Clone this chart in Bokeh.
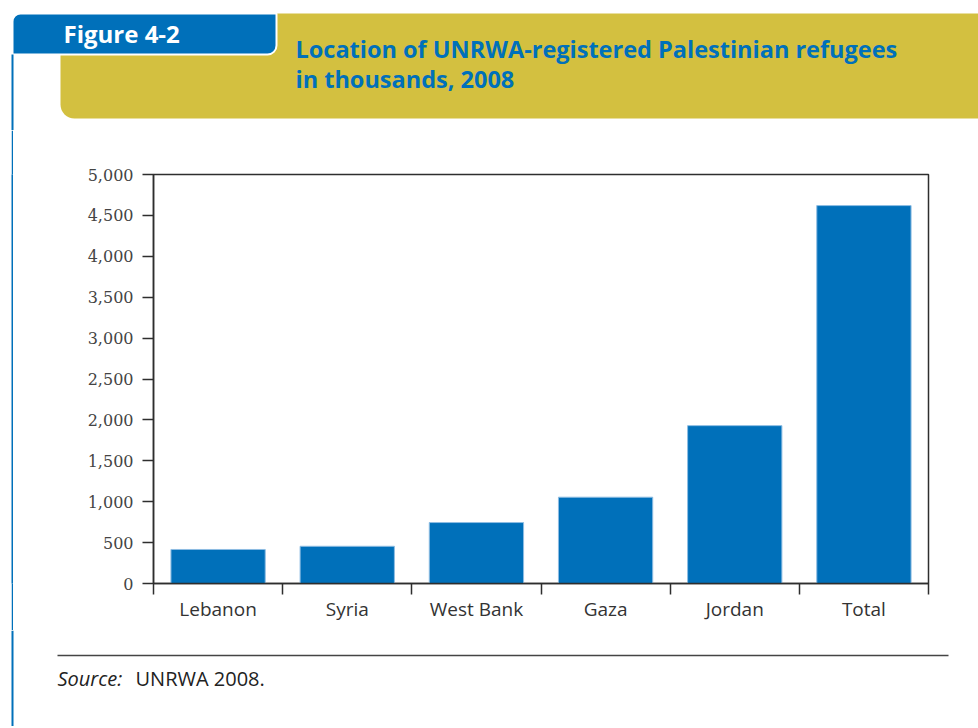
from bokeh.plotting import figure
from bokeh.models import Range1d, FixedTicker, NumeralTickFormatter, LinearAxis, Spacer
from bokeh.layouts import column, row
from bokeh.core.properties import value
from bokeh.embed import file_html
from bokeh.resources import INLINE

# ---- data ----
categories = ["Lebanon", "Syria", "West Bank", "Gaza", "Jordan", "Total"]
refugees = [416, 455, 745, 1055, 1930, 4620]
y_ticks = [0, 500, 1000, 1500, 2000, 2500, 3000, 3500, 4000, 4500, 5000]
figure_label = "Figure 4-2"
title_lines = ["Location of UNRWA-registered Palestinian refugees", "in thousands, 2008"]
source_label = "Source:"
source_text = "UNRWA 2008."

BLUE = "#0070BA"
OLIVE = "#D3C040"
DARK = "#2e2e2e"
TXT = "#333333"


def deco_fig(w, h, x0, y0):
    f = figure(width=w, height=h, x_range=Range1d(x0, x0 + w), y_range=Range1d(y0 + h, y0),
               output_backend="svg", toolbar_location=None, x_axis_type=None, y_axis_type=None,
               min_border=0, min_border_left=0, min_border_right=0, min_border_top=0, min_border_bottom=0)
    f.outline_line_color = None
    f.xgrid.visible = False
    f.ygrid.visible = False
    f.background_fill_color = "white"
    f.border_fill_color = "white"
    return f


# ---- header ----
head = deco_fig(978, 130, 0, 0)
head.quad(left=60, right=978, top=13, bottom=118, fill_color=OLIVE, line_color=None,
          border_radius=(0, 0, 0, 14))
head.quad(left=12, right=276, top=13, bottom=54, fill_color=BLUE, line_color="white", line_width=2,
          border_radius=(8, 0, 9, 0))
head.quad(left=11, right=13, top=54, bottom=130, fill_color=BLUE, line_color=None)
head.text(x=[63], y=[33], text=[figure_label], text_color="white", text_font=value("Open Sans"),
          text_font_style="bold", text_font_size="24px", text_baseline="alphabetic")
head.text(x=[295, 295], y=[48, 78], text=title_lines, text_color=BLUE, text_font=value("Open Sans"),
          text_font_style="bold", text_font_size="23.5px", text_baseline="alphabetic")

# ---- left strip (blue rule) ----
strip = figure(width=2, height=500, output_backend="svg", toolbar_location=None,
               x_axis_type=None, y_axis_type=None, min_border=0)
strip.background_fill_color = BLUE
strip.border_fill_color = BLUE
strip.outline_line_color = None
strip.xgrid.visible = False
strip.ygrid.visible = False

# ---- main chart ----
xs = [i + 0.5 for i in range(len(categories))]
p = figure(width=965, height=500, x_range=Range1d(0, len(categories)), y_range=Range1d(0, 5000),
           output_backend="svg", toolbar_location=None, x_axis_type=None, y_axis_type=None,
           min_border_left=140, min_border_right=50, min_border_top=44, min_border_bottom=47)
p.background_fill_color = "white"
p.border_fill_color = "white"
p.outline_line_color = DARK
p.outline_line_width = 1.5

yt = FixedTicker(ticks=y_ticks, minor_ticks=[])
yaxis = LinearAxis(ticker=yt, formatter=NumeralTickFormatter(format="0,0"))
yaxis.axis_line_color = DARK
yaxis.axis_line_width = 1.5
yaxis.major_tick_line_color = DARK
yaxis.major_tick_line_width = 1.5
yaxis.major_tick_out = 11
yaxis.major_tick_in = 0
yaxis.minor_tick_line_color = None
yaxis.major_label_standoff = 9
yaxis.major_label_text_font = "DejaVu Serif"
yaxis.major_label_text_font_size = "16px"
yaxis.major_label_text_color = "#444444"
p.add_layout(yaxis, "left")

xt = FixedTicker(ticks=xs, minor_ticks=list(range(len(categories) + 1)))
xaxis = LinearAxis(ticker=xt)
xaxis.major_label_overrides = {x: c for x, c in zip(xs, categories)}
xaxis.axis_line_color = DARK
xaxis.axis_line_width = 1.5
xaxis.major_tick_out = 0
xaxis.major_tick_in = 0
xaxis.major_tick_line_color = None
xaxis.minor_tick_out = 11
xaxis.minor_tick_in = 0
xaxis.minor_tick_line_color = DARK
xaxis.minor_tick_line_width = 1.5
xaxis.major_label_standoff = 1
xaxis.major_label_text_font = "Open Sans"
xaxis.major_label_text_font_size = "19px"
xaxis.major_label_text_color = TXT
p.add_layout(xaxis, "below")

p.ygrid.ticker = yt
p.ygrid.grid_line_color = DARK
p.ygrid.grid_line_width = 1.5
p.xgrid.visible = False

p.vbar(x=xs, top=refugees, bottom=0, width=0.73, fill_color=BLUE, line_color="#8ebde3", line_width=1)

# ---- footer ----
foot = deco_fig(978, 96, 0, 630)
foot.quad(left=11, right=13, top=630, bottom=726, fill_color=BLUE, line_color=None)
foot.segment(x0=[57], y0=[655], x1=[948], y1=[655], line_color="#444444", line_width=1.5)
foot.text(x=[57], y=[678], text=[source_label], text_color="#222222", text_font=value("Open Sans"),
          text_font_style="italic", text_font_size="20px", text_baseline="alphabetic")
foot.text(x=[135], y=[678], text=[source_text], text_color="#222222", text_font=value("Open Sans"),
          text_font_size="20px", text_baseline="alphabetic")

layout = column(head, row(Spacer(width=11, height=500), strip, p), foot)
open("out.html", "w").write(file_html(layout, INLINE))
